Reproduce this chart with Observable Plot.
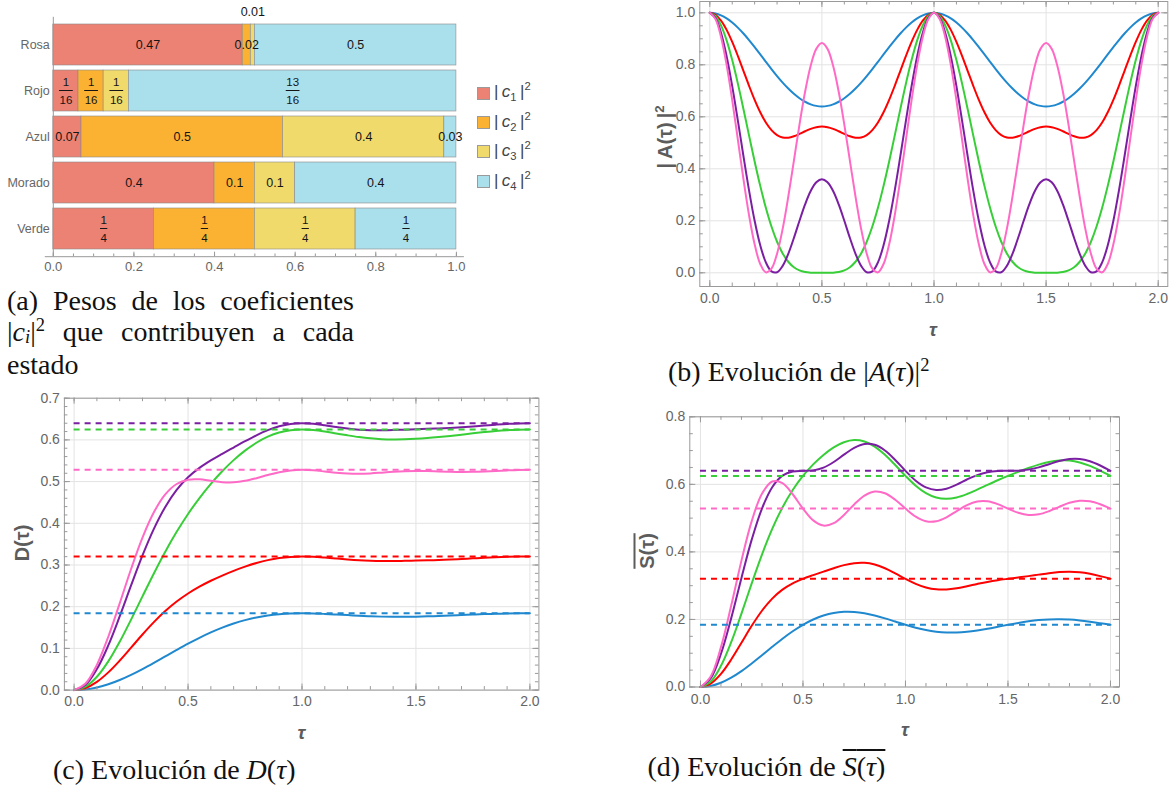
<!DOCTYPE html>
<html><head><meta charset="utf-8">
<script src="https://cdn.jsdelivr.net/npm/d3@7"></script>
<script src="https://cdn.jsdelivr.net/npm/@observablehq/plot@0.6"></script>
<style>
body{margin:0;background:#fff}
#root{position:relative;width:1173px;height:792px;overflow:hidden;background:#fff}
.abs{position:absolute}
svg.abs{overflow:visible}
.cap{position:absolute;font-family:"Liberation Serif","Times New Roman",serif;font-size:28px;line-height:31px;color:#111;white-space:nowrap}
.just{text-align:justify;text-align-last:justify;white-space:normal}
.axl{position:absolute;font-family:"Liberation Sans",Arial,sans-serif;font-weight:bold;color:#5c5c5c;white-space:nowrap;transform:translate(-50%,-50%)}
.rot{transform:translate(-50%,-50%) rotate(-90deg)}
.leg{position:absolute;font-family:"Liberation Sans",Arial,sans-serif;font-size:17px;color:#444;white-space:nowrap;line-height:20px}
sup,sub{font-size:0.66em;line-height:0}
.lowsub{font-size:0.66em;line-height:0;vertical-align:-0.1em}
</style></head><body><div id="root"></div><script>
// ---------------- data: panel (a) ----------------
const estados = ["Rosa", "Rojo", "Azul", "Morado", "Verde"];
const coefs = ["c1", "c2", "c3", "c4"];
const c1 = [0.47, 0.0625, 0.07, 0.4, 0.25];
const c2 = [0.02, 0.0625, 0.5, 0.1, 0.25];
const c3 = [0.01, 0.0625, 0.4, 0.1, 0.25];
const c4 = [0.5, 0.8125, 0.03, 0.4, 0.25];
const lab1 = ["0.47", "1/16", "0.07", "0.4", "1/4"];
const lab2 = ["0.02", "1/16", "0.5", "0.1", "1/4"];
const lab3 = ["0.01", "1/16", "0.4", "0.1", "1/4"];
const lab4 = ["0.5", "13/16", "0.03", "0.4", "1/4"];
const outsideLabels = [{estado: "Rosa", coef: "c3"}];
const coefColors = ["#EC8273", "#FBB233", "#F0DA6C", "#AADFEC"];
const ticksA = [0, 0.2, 0.4, 0.6, 0.8, 1];

// ---------------- data: panel (b) |A(tau)|^2 ----------------
const tauB = [0,0.025,0.05,0.075,0.1,0.125,0.15,0.175,0.2,0.225,0.25,0.275,0.3,0.325,0.35,0.375,0.4,0.425,0.45,0.475,0.5,0.525,0.55,0.575,0.6,0.625,0.65,0.675,0.7,0.725,0.75,0.775,0.8,0.825,0.85,0.875,0.9,0.925,0.95,0.975,1,1.025,1.05,1.075,1.1,1.125,1.15,1.175,1.2,1.225,1.25,1.275,1.3,1.325,1.35,1.375,1.4,1.425,1.45,1.475,1.5,1.525,1.55,1.575,1.6,1.625,1.65,1.675,1.7,1.725,1.75,1.775,1.8,1.825,1.85,1.875,1.9,1.925,1.95,1.975,2];
const absVerde = [1,0.9877,0.9517,0.894,0.8181,0.7286,0.6303,0.5285,0.4284,0.3343,0.25,0.1779,0.1194,0.0745,0.0425,0.0215,0.0091,0.003,0.0006,0,0,
0,0.0006,0.003,0.0091,0.0215,0.0425,0.0745,0.1194,0.1779,0.25,0.3343,0.4284,0.5285,0.6303,0.7286,0.8181,0.894,0.9517,0.9877,1,
0.9877,0.9517,0.894,0.8181,0.7286,0.6303,0.5285,0.4284,0.3343,0.25,0.1779,0.1194,0.0745,0.0425,0.0215,0.0091,0.003,0.0006,0,0,
0,0.0006,0.003,0.0091,0.0215,0.0425,0.0745,0.1194,0.1779,0.25,0.3343,0.4284,0.5285,0.6303,0.7286,0.8181,0.894,0.9517,0.9877,1];
const absMorado = [1,0.9804,0.9232,0.8332,0.7178,0.5863,0.4492,0.3172,0.2,0.1057,0.04,0.0056,0.0022,0.0266,0.073,0.1337,0.2,0.263,0.3146,0.3483,0.36,
0.3483,0.3146,0.263,0.2,0.1337,0.073,0.0266,0.0022,0.0056,0.04,0.1057,0.2,0.3172,0.4492,0.5863,0.7178,0.8332,0.9232,0.9804,1,
0.9804,0.9232,0.8332,0.7178,0.5863,0.4492,0.3172,0.2,0.1057,0.04,0.0056,0.0022,0.0266,0.073,0.1337,0.2,0.263,0.3146,0.3483,0.36,
0.3483,0.3146,0.263,0.2,0.1337,0.073,0.0266,0.0022,0.0056,0.04,0.1057,0.2,0.3172,0.4492,0.5863,0.7178,0.8332,0.9232,0.9804,1];
const absRosa = [1,0.9763,0.9074,0.7999,0.6641,0.513,0.3608,0.222,0.1096,0.0339,0.0018,0.0157,0.0736,0.1691,0.2924,0.4307,0.57,0.6962,0.7967,0.8613,0.8836,
0.8613,0.7967,0.6962,0.57,0.4307,0.2924,0.1691,0.0736,0.0157,0.0018,0.0339,0.1096,0.222,0.3608,0.513,0.6641,0.7999,0.9074,0.9763,1,
0.9763,0.9074,0.7999,0.6641,0.513,0.3608,0.222,0.1096,0.0339,0.0018,0.0157,0.0736,0.1691,0.2924,0.4307,0.57,0.6962,0.7967,0.8613,0.8836,
0.8613,0.7967,0.6962,0.57,0.4307,0.2924,0.1691,0.0736,0.0157,0.0018,0.0339,0.1096,0.222,0.3608,0.513,0.6641,0.7999,0.9074,0.9763,1];
const absRojo = [1,0.9923,0.9699,0.9343,0.888,0.8344,0.7769,0.7193,0.6651,0.6173,0.5781,0.5489,0.5299,0.5207,0.5197,0.525,0.5341,0.5445,0.5538,0.5602,0.5625,
0.5602,0.5538,0.5445,0.5341,0.525,0.5197,0.5207,0.5299,0.5489,0.5781,0.6173,0.6651,0.7193,0.7769,0.8344,0.888,0.9343,0.9699,0.9923,1,
0.9923,0.9699,0.9343,0.888,0.8344,0.7769,0.7193,0.6651,0.6173,0.5781,0.5489,0.5299,0.5207,0.5197,0.525,0.5341,0.5445,0.5538,0.5602,0.5625,
0.5602,0.5538,0.5445,0.5341,0.525,0.5197,0.5207,0.5299,0.5489,0.5781,0.6173,0.6651,0.7193,0.7769,0.8344,0.888,0.9343,0.9699,0.9923,1];
const absAzul = [1,0.9976,0.9904,0.9787,0.9627,0.9431,0.9203,0.8951,0.868,0.84,0.8116,0.7837,0.7568,0.7316,0.7087,0.6885,0.6715,0.6579,0.648,0.642,0.64,
0.642,0.648,0.6579,0.6715,0.6885,0.7087,0.7316,0.7568,0.7837,0.8116,0.84,0.868,0.8951,0.9203,0.9431,0.9627,0.9787,0.9904,0.9976,1,
0.9976,0.9904,0.9787,0.9627,0.9431,0.9203,0.8951,0.868,0.84,0.8116,0.7837,0.7568,0.7316,0.7087,0.6885,0.6715,0.6579,0.648,0.642,0.64,
0.642,0.648,0.6579,0.6715,0.6885,0.7087,0.7316,0.7568,0.7837,0.8116,0.84,0.868,0.8951,0.9203,0.9431,0.9627,0.9787,0.9904,0.9976,1];

// ---------------- data: panels (c) D(tau) and (d) S(tau) ----------------
const tauCD = [0,0.05,0.1,0.15,0.2,0.25,0.3,0.35,0.4,0.45,0.5,0.55,0.6,0.65,0.7,0.75,0.8,0.85,0.9,0.95,1,1.05,1.1,1.15,1.2,1.25,1.3,1.35,1.4,1.45,1.5,1.55,1.6,1.65,1.7,1.75,1.8,1.85,1.9,1.95,2];
const dVerde = [0,0.0082,0.0319,0.0688,0.1158,0.1691,0.2248,0.2798,0.3318,0.3795,0.4224,0.4606,0.4947,0.5249,0.5515,0.5743,0.5932,0.6077,0.6177,0.6233,0.625,0.6236,0.6201,0.6155,0.6109,0.6068,0.6037,0.6018,0.6011,0.6014,0.6025,0.6043,0.6067,0.6095,0.6125,0.6157,0.6187,0.6214,0.6234,0.6246,0.625];
const dMorado = [0,0.013,0.0504,0.1072,0.1767,0.2509,0.3228,0.3866,0.4392,0.48,0.5103,0.5329,0.5508,0.5665,0.5817,0.5968,0.611,0.6234,0.6327,0.6383,0.64,0.6386,0.6351,0.6309,0.6271,0.6244,0.6231,0.623,0.6236,0.6246,0.6256,0.6265,0.6275,0.6286,0.6301,0.6321,0.6343,0.6365,0.6384,0.6396,0.64];
const dRosa = [0,0.0157,0.0606,0.1279,0.2081,0.2905,0.3657,0.4264,0.4692,0.4942,0.5046,0.5054,0.502,0.4987,0.4983,0.5018,0.5082,0.5157,0.5224,0.5268,0.5282,0.527,0.5243,0.5214,0.5193,0.5187,0.5196,0.5214,0.5234,0.5249,0.5256,0.5253,0.5245,0.5236,0.5231,0.5234,0.5243,0.5256,0.5269,0.5279,0.5282];
const dRojo = [0,0.0051,0.0198,0.0425,0.0707,0.1018,0.1333,0.1629,0.1895,0.2123,0.2317,0.248,0.2622,0.2747,0.286,0.296,0.3047,0.3117,0.3166,0.3194,0.3203,0.3196,0.3178,0.3156,0.3134,0.3116,0.3104,0.3097,0.3096,0.3099,0.3105,0.3112,0.3121,0.3132,0.3145,0.3159,0.3172,0.3185,0.3195,0.3201,0.3203];
const dAzul = [0,0.0016,0.0064,0.014,0.0243,0.0366,0.0505,0.0654,0.0809,0.0963,0.1113,0.1254,0.1383,0.1498,0.1596,0.1678,0.1742,0.1789,0.182,0.1837,0.1842,0.1838,0.1827,0.1813,0.1798,0.1783,0.1771,0.1762,0.1758,0.1757,0.1761,0.1768,0.1778,0.1789,0.18,0.1812,0.1822,0.1831,0.1837,0.1841,0.1842];
const sVerde = [0,0.0163,0.0627,0.1327,0.2174,0.3067,0.3922,0.4681,0.5317,0.5834,0.625,0.6591,0.6872,0.7095,0.7248,0.7311,0.7269,0.7119,0.6875,0.6571,0.625,0.596,0.5739,0.5608,0.5571,0.5613,0.5713,0.5843,0.5984,0.6121,0.625,0.6371,0.6483,0.6583,0.6661,0.6705,0.6703,0.6649,0.6546,0.6406,0.625];
const sMorado = [0,0.0259,0.0985,0.2039,0.323,0.4363,0.5284,0.5915,0.6257,0.6383,0.64,0.6414,0.6495,0.6661,0.6878,0.7079,0.7193,0.717,0.7002,0.6723,0.64,0.6108,0.5908,0.5831,0.5872,0.5993,0.6143,0.6274,0.6359,0.6395,0.64,0.6405,0.6436,0.6503,0.6597,0.6691,0.6752,0.6754,0.6685,0.6558,0.64];
const sRosa = [0,0.0313,0.118,0.2411,0.3742,0.4912,0.5721,0.6084,0.6035,0.5707,0.5282,0.4934,0.478,0.485,0.5094,0.5406,0.5667,0.5789,0.5738,0.5544,0.5282,0.5045,0.4909,0.4908,0.5025,0.5208,0.5383,0.549,0.5497,0.5414,0.5282,0.5159,0.5094,0.5112,0.5205,0.5335,0.5453,0.5515,0.5498,0.541,0.5282];
const sRojo = [0,0.0101,0.0388,0.0813,0.131,0.1811,0.2258,0.2618,0.2884,0.307,0.3203,0.3312,0.3416,0.3518,0.3608,0.3667,0.3676,0.3625,0.3516,0.3366,0.3203,0.3055,0.2947,0.2891,0.2888,0.2925,0.2985,0.3051,0.3112,0.3162,0.3203,0.3242,0.3283,0.3327,0.337,0.3402,0.3413,0.3397,0.3351,0.3283,0.3203];
const sAzul = [0,0.0032,0.0126,0.0276,0.047,0.0696,0.094,0.1189,0.1429,0.165,0.1842,0.1999,0.2117,0.2194,0.2228,0.2224,0.2185,0.2118,0.2033,0.1937,0.1842,0.1756,0.1686,0.1638,0.1613,0.1613,0.1634,0.1673,0.1724,0.1782,0.1842,0.1898,0.1945,0.1981,0.2001,0.2006,0.1995,0.1969,0.1932,0.1888,0.1842];
const asintotas = [0.5282, 0.3203, 0.1842, 0.64, 0.625]; // Rosa, Rojo, Azul, Morado, Verde
const lineColors = ["#FF6AC6", "#FF0000", "#1F88CE", "#7B1FA2", "#38CE38"]; // by estados

// ---------------- helpers ----------------
const FONT = '"Liberation Sans", Arial, Helvetica, sans-serif';
const root = document.getElementById("root");
function place(node, left, top) {
  node.classList.add("abs");
  node.style.left = left + "px"; node.style.top = top + "px";
  root.appendChild(node);
}
function html(cls, inner, left, top, extra) {
  const d = document.createElement("div");
  d.className = cls; d.innerHTML = inner;
  d.style.left = left + "px"; d.style.top = top + "px";
  if (extra) Object.assign(d.style, extra);
  root.appendChild(d);
  return d;
}
const drawOrder = ["Azul", "Rojo", "Verde", "Morado", "Rosa"];
function seriesRows(tau, obj) {
  return drawOrder.flatMap(s => obj[s].map((v, i) => ({tau: tau[i], v, serie: s})));
}
const asymRows = estados.map((s, i) => ({serie: s, v: asintotas[i]}));
const rng = (a, b, s) => d3.range(Math.round((b - a) / s) + 1).map(i => +(a + i * s).toFixed(4));
// keep stacked positions of all segments, but only draw the selected ones
function afterStack(opts, test) {
  const t = opts.transform;
  return {...opts, transform(data, facets) {
    const r = t(data, facets);
    const arr = Array.from(r.data);
    return {data: r.data, facets: r.facets.map(f => Array.from(f).filter(i => test(arr[i])))};
  }};
}

// ---------------- panel (a) ----------------
const labs = [lab1, lab2, lab3, lab4];
const vals = [c1, c2, c3, c4];
const rowsA = [];
estados.forEach((e, i) => coefs.forEach((c, j) => rowsA.push({estado: e, coef: c, value: vals[j][i], label: labs[j][i]})));
const isFrac = d => d.label.includes("/");
const isOut = d => outsideLabels.some(o => o.estado === d.estado && o.coef === d.coef);
const WA = 560, HA = 300, mlA = 52.8, mrA = 104.1, mtA = 16.8, mbA = 43.8;
const fhA = HA - mtA - mbA;
const txt = (text, test, extra) => Plot.text(rowsA, afterStack(Plot.stackX({x: "value", y: "estado", text, fill: "#151515", ...extra}), test));
const barShape = {draw(context, l) { context.moveTo(0, 0); context.lineTo(0, -l); }};
const fracBar = (len, test) => Plot.vector(rowsA, afterStack(Plot.stackX({x: "value", y: "estado", length: len, rotate: 90, anchor: "middle", shape: barShape, stroke: "#151515", strokeWidth: 1, dy: -0.5}), test));
const plotA = Plot.plot({
  width: WA, height: HA, marginLeft: mlA, marginRight: mrA, marginTop: mtA, marginBottom: mbA,
  x: {domain: [0, 1]},
  y: {domain: estados, padding: 0.104},
  color: {domain: coefs, range: coefColors},
  style: {fontFamily: FONT, fontSize: "12.5px", color: "#666", background: "transparent", overflow: "visible"},
  marks: [
    Plot.barX(rowsA, Plot.stackX({x: "value", y: "estado", fill: "coef", stroke: "#8a8a8a", strokeWidth: 0.7, strokeOpacity: 0.85})),
    txt("label", d => !isFrac(d) && !isOut(d), {fontSize: 12.5}),
    txt("label", d => isOut(d), {fontSize: 12.5, dy: -33.5}),
    txt(d => d.label.split("/")[0], isFrac, {fontSize: 11.5, dy: -8.5}),
    txt(d => d.label.split("/")[1], isFrac, {fontSize: 11.5, dy: 9.3}),
    fracBar(13, d => isFrac(d) && d.label.split("/")[1].length > 1),
    fracBar(6.5, d => isFrac(d) && d.label.split("/")[1].length === 1),
    Plot.ruleX([0], {stroke: "#999"}),
    Plot.frame({anchor: "bottom", stroke: "#999", insetLeft: -8, insetRight: -7}),
    Plot.tickX(ticksA, {x: d => d, stroke: "#999", insetTop: fhA - 4.5}),
    Plot.tickX(rng(0, 1, 0.05), {x: d => d, stroke: "#999", insetTop: fhA - 2.7}),
    Plot.axisX(ticksA, {tickSize: 0, tickPadding: 5, tickFormat: d3.format(".1f"), label: null, fontSize: 13}),
    Plot.axisY({tickSize: 0, tickPadding: 3.5, label: null, fontSize: 12.5})
  ]
});
place(plotA, 0, 0);
// legend
const legY = [93.3, 122.7, 151.7, 181.7];
coefs.forEach((c, j) => {
  html("abs", "", 477.4, legY[j] - 6.3, {width: "12.6px", height: "12.6px", background: coefColors[j], border: "1px solid #9a9a9a", boxSizing: "border-box"});
  html("leg", `|&thinsp;<i>c</i><sub>${j + 1}</sub>&thinsp;|<sup>2</sup>`, 494, legY[j] - 11);
});

// ---------------- framed line panels ----------------
function framed(o) {
  const fw = o.width - o.ml - o.mr, fh = o.height - o.mt - o.mb;
  const tc = "#9a9a9a";
  return Plot.plot({
    width: o.width, height: o.height, marginLeft: o.ml, marginRight: o.mr, marginTop: o.mt, marginBottom: o.mb,
    x: {domain: o.xd}, y: {domain: o.yd},
    color: {domain: estados, range: lineColors},
    style: {fontFamily: FONT, fontSize: "14px", color: "#666", background: "transparent", overflow: "visible"},
    marks: [
      Plot.gridX(o.xMajor, {stroke: "#e3e3e3", strokeOpacity: 1}),
      Plot.gridY(o.yMajor, {stroke: "#e3e3e3", strokeOpacity: 1}),
      ...o.marks,
      Plot.frame({stroke: tc}),
      Plot.tickX(o.xMajor, {x: d => d, stroke: tc, insetTop: fh - 6}),
      Plot.tickX(o.xMajor, {x: d => d, stroke: tc, insetBottom: fh - 6}),
      Plot.tickX(o.xMinor, {x: d => d, stroke: tc, insetTop: fh - 3.5}),
      Plot.tickX(o.xMinor, {x: d => d, stroke: tc, insetBottom: fh - 3.5}),
      Plot.tickY(o.yMajor, {y: d => d, stroke: tc, insetRight: fw - 6}),
      Plot.tickY(o.yMajor, {y: d => d, stroke: tc, insetLeft: fw - 6}),
      Plot.tickY(o.yMinor, {y: d => d, stroke: tc, insetRight: fw - 3.5}),
      Plot.tickY(o.yMinor, {y: d => d, stroke: tc, insetLeft: fw - 3.5}),
      Plot.axisX(o.xMajor, {tickSize: 0, tickPadding: o.xpad, tickFormat: d3.format(".1f"), label: null}),
      Plot.axisY(o.yMajor, {tickSize: 0, tickPadding: 4.5, tickFormat: d3.format(".1f"), label: null})
    ]
  });
}
const solid = rows => Plot.line(rows, {x: "tau", y: "v", z: "serie", stroke: "serie", strokeWidth: 2, curve: "catmull-rom"});
const dashed = () => Plot.ruleY(asymRows, {y: "v", x1: 0, x2: 2, stroke: "serie", strokeWidth: 2, strokeDasharray: "6,5"});
const xMajor = [0, 0.5, 1, 1.5, 2];
const xMinor = rng(0, 2, 0.1);

// (b)
const rowsB = seriesRows(tauB, {Rosa: absRosa, Rojo: absRojo, Azul: absAzul, Morado: absMorado, Verde: absVerde});
const plotB = framed({
  width: 513, height: 345, ml: 39.3, mr: 5.7, mt: 1, mb: 59,
  xd: [-0.0446, 2.0428], yd: [-0.0527, 1.0435],
  xMajor, xMinor, yMajor: rng(0, 1, 0.2), yMinor: rng(0, 1, 0.05), xpad: 7,
  marks: [solid(rowsB)]
});
place(plotB, 660, 0);

// (c)
const rowsC = seriesRows(tauCD, {Rosa: dRosa, Rojo: dRojo, Azul: dAzul, Morado: dMorado, Verde: dVerde});
const plotC = framed({
  width: 560, height: 365, ml: 63.9, mr: 21.6, mt: 12.7, mb: 60.4,
  xd: [-0.0426, 2.0395], yd: [0, 0.7],
  xMajor, xMinor, yMajor: rng(0, 0.7, 0.1), yMinor: rng(0, 0.7, 0.02), xpad: 6,
  marks: [solid(rowsC), dashed()]
});
place(plotC, 0, 385);

// (d)
const rowsD = seriesRows(tauCD, {Rosa: sRosa, Rojo: sRojo, Azul: sAzul, Morado: sMorado, Verde: sVerde});
const plotD = framed({
  width: 543, height: 350, ml: 59.3, mr: 54, mt: 16.3, mb: 63.5,
  xd: [-0.052, 2.044], yd: [0, 0.8],
  xMajor, xMinor, yMajor: rng(0, 0.8, 0.2), yMinor: rng(0, 0.8, 0.05), xpad: 7,
  marks: [solid(rowsD), dashed()]
});
place(plotD, 630, 400);

// ---------------- axis labels ----------------
html("axl rot", "|&thinsp;A(τ)&thinsp;|<sup>2</sup>", 665, 137, {fontSize: "20px"});
html("axl", "<i>τ</i>", 933, 330, {fontSize: "19px"});
html("axl rot", "D(τ)", 21.5, 543, {fontSize: "20px"});
html("axl", "<i>τ</i>", 301.5, 733, {fontSize: "19px"});
html("axl rot", "<span style='text-decoration:overline'>S(τ)</span>", 647, 551, {fontSize: "20px"});
html("axl", "<i>τ</i>", 905, 730, {fontSize: "19px"});

// ---------------- captions ----------------
html("cap just", "(a) Pesos de los coeficientes", 7, 284.6, {width: "347px"});
html("cap just", "|<i>c<span class='lowsub'>i</span></i>|<sup>2</sup> que contribuyen a cada", 7, 316, {width: "347px"});
html("cap", "estado", 7, 348.5);
html("cap", "(b) Evolución de |<i>A</i>(<i>τ</i>)|<sup>2</sup>", 668, 355.6);
html("cap", "(c) Evolución de <i>D</i>(<i>τ</i>)", 53, 753.6);
html("cap", "(d) Evolución de <span style='text-decoration:overline'><i>S</i>(<i>τ</i>)</span>", 647.5, 750.6);
</script></body></html>
